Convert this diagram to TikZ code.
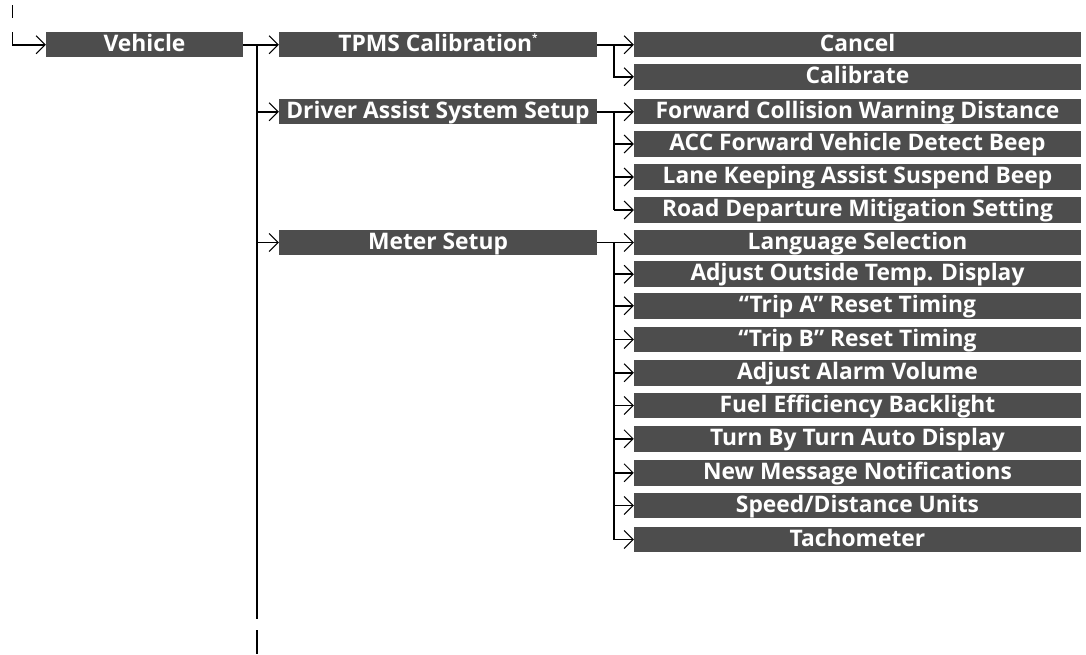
\documentclass[tikz,border=0pt]{standalone}
\usepackage{fontspec}
\setmainfont{Open Sans}
\usetikzlibrary{arrows.meta}
\definecolor{boxgray}{RGB}{77,77,77}
\tikzset{
  menubox/.style={fill=boxgray, text=white, inner sep=0pt, minimum height=25.5pt,
    text height=19.5pt, text depth=6pt,
    font=\bfseries\fontsize{22.8}{22.8}\selectfont},
  col1/.style={menubox, minimum width=197pt},
  col2/.style={menubox, minimum width=318pt},
  col3/.style={menubox, minimum width=447pt},
  conn/.style={line width=1.8pt, line cap=butt},
  arr/.style={conn, -{Straight Barb[length=9pt,width=18pt,line width=1pt]}},
  tick/.style={line width=1.5pt}
}
\begin{document}
\begin{tikzpicture}[x=1pt,y=-1pt]
\useasboundingbox (0,0) rectangle (1086,654);
% column 1
\node[col1] (veh) at (144.5,44.7) {Vehicle};
% column 2
\node[col2] (tpms) at (438,44.7) {TPMS Calibration\raisebox{0.8ex}{\fontsize{10}{10}\selectfont *}};
\node[col2] (drv) at (438,111.7) {Driver Assist System Setup};
\node[col2] (met) at (438,242.5) {Meter Setup};
% column 3
\node[col3] (can) at (857.5,44.7) {Cancel};
\node[col3] (cal) at (857.5,76.8) {Calibrate};
\node[col3] (fcw) at (857.5,111.7) {Forward Collision Warning Distance};
\node[col3] (acc) at (857.5,144) {ACC Forward Vehicle Detect Beep};
\node[col3] (lka) at (857.5,177) {Lane Keeping Assist Suspend Beep};
\node[col3] (rdm) at (857.5,210) {Road Departure Mitigation Setting};
\node[col3] (lan) at (857.5,242.5) {Language Selection};
\node[col3] (aot) at (857.5,274.2) {Adjust Outside Temp. Display};
\node[col3] (tra) at (857.5,305.8) {“Trip A” Reset Timing};
\node[col3] (trb) at (857.5,339.5) {“Trip B” Reset Timing};
\node[col3] (aav) at (857.5,372.8) {Adjust Alarm Volume};
\node[col3] (feb) at (857.5,405.5) {Fuel Efficiency Backlight};
\node[col3] (tbt) at (857.5,438.8) {Turn By Turn Auto Display};
\node[col3] (nmn) at (857.5,472.8) {New Message Notifications};
\node[col3] (sdu) at (857.5,505.5) {Speed/Distance Units};
\node[col3] (tac) at (857.5,539.5) {Tachometer};
% coordinates
\coordinate (t0a) at (12.5,5);
\coordinate (t0b) at (12.5,18);
\coordinate (s0) at (12.5,32);
\coordinate (j1) at (257,44.7);
\coordinate (j1e) at (257,619);
\coordinate (t1a) at (257,630);
\coordinate (t1b) at (257,654);
\coordinate (j2) at (614,44.7);
\coordinate (j3) at (614,111.7);
\coordinate (j4) at (614,242.5);
% connectors
\draw[tick] (t0a) -- (t0b);
\draw[tick] (t1a) -- (t1b);
\draw[arr] (s0) |- (veh.west);
\draw[arr] (veh.east) -- (tpms.west);
\draw[conn] (j1) -- (j1e);
\draw[arr] (j1 |- drv.west) -- (drv.west);
\draw[arr] (j1 |- met.west) -- (met.west);
% TPMS group
\draw[arr] (tpms.east) -- (can.west);
\draw[arr] (j2) |- (cal.west);
% Driver assist group
\draw[arr] (drv.east) -- (fcw.west);
\draw[conn] (j3) -- (j3 |- rdm.west);
\foreach \n in {acc,lka,rdm} \draw[arr] (j3 |- \n.west) -- (\n.west);
% Meter group
\draw[arr] (met.east) -- (lan.west);
\draw[conn] (j4) -- (j4 |- tac.west);
\foreach \n in {aot,tra,trb,aav,feb,tbt,nmn,sdu,tac} \draw[arr] (j4 |- \n.west) -- (\n.west);
\end{tikzpicture}
\end{document}
